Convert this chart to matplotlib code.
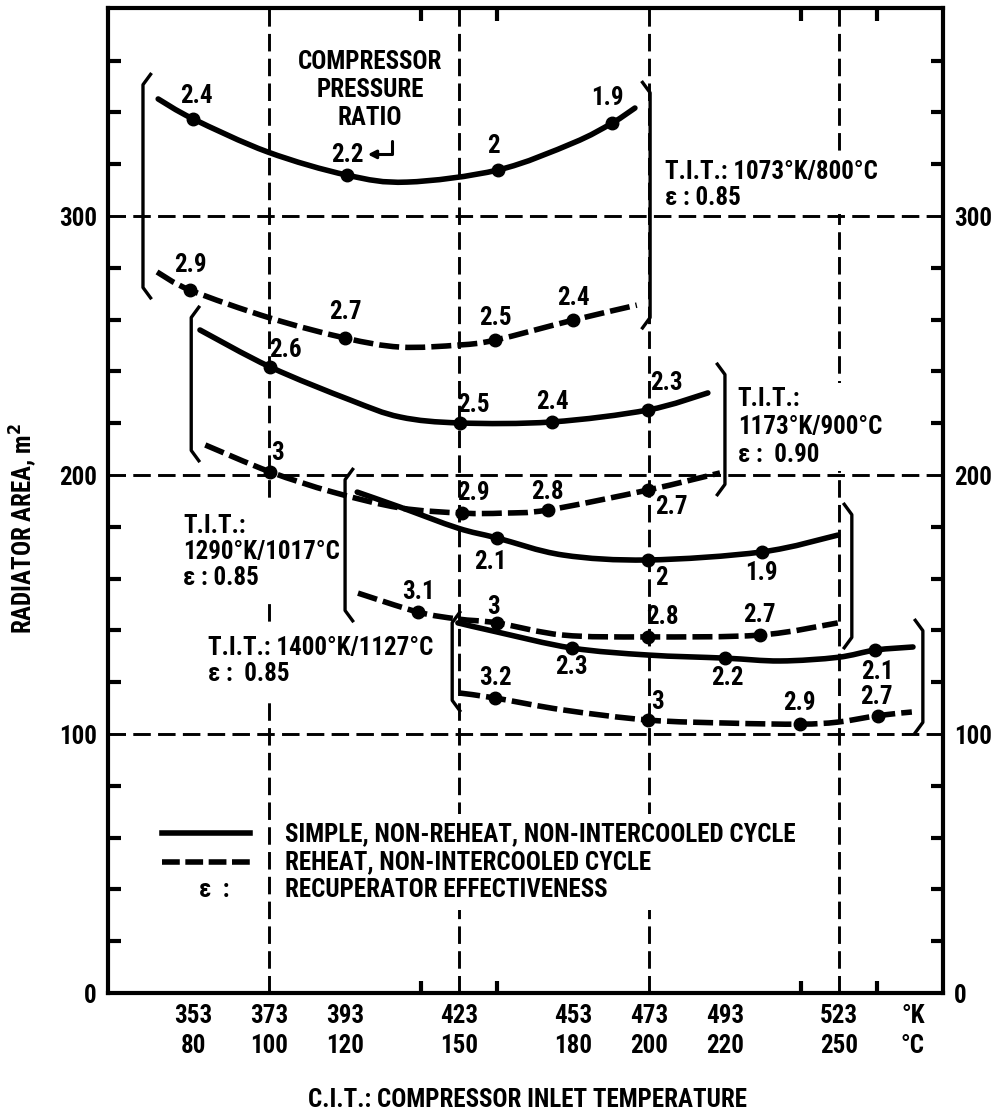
import matplotlib
matplotlib.use("Agg")
import matplotlib.pyplot as plt
from matplotlib.path import Path
from matplotlib.patches import PathPatch

plt.rcParams['font.family'] = ['Liberation Sans Narrow', 'DejaVu Sans Condensed',
                               'Roboto Condensed', 'DejaVu Sans']
plt.rcParams['font.weight'] = 'heavy'
plt.rcParams['font.stretch'] = 'condensed'

# --- curves: CIT (K) vs radiator area (m2) ---
tit1073_simple_x = [343.8, 353.0, 372.7, 393.5, 409.3, 433.3, 453.0, 463.3, 469.3]
tit1073_simple_y = [345.2, 337.5, 324.7, 315.8, 313.1, 317.8, 328.2, 335.9, 341.7]
tit1073_reheat_x = [343.5, 352.2, 373.3, 393.0, 407.5, 423.0, 432.5, 453.0, 469.8]
tit1073_reheat_y = [278.4, 271.4, 260.6, 252.9, 249.4, 250.2, 252.1, 259.8, 265.6]

tit1173_simple_x = [354.8, 373.3, 394.3, 407.5, 423.3, 447.5, 472.7, 488.5]
tit1173_simple_y = [256.0, 241.7, 229.0, 222.4, 220.1, 220.5, 225.1, 231.7]
tit1173_reheat_x = [356.2, 373.3, 389.8, 407.5, 423.8, 434.6, 446.4, 472.7, 491.7]
tit1173_reheat_y = [211.6, 201.2, 193.4, 187.3, 185.3, 185.3, 186.5, 194.2, 200.8]

tit1290_simple_x = [396.2, 407.5, 422.7, 433.0, 450.4, 472.7, 502.7, 522.7]
tit1290_simple_y = [193.4, 187.6, 179.5, 175.7, 169.1, 167.2, 170.3, 176.8]
tit1290_reheat_x = [396.4, 412.2, 422.7, 433.0, 450.4, 472.7, 502.2, 522.7]
tit1290_reheat_y = [154.4, 147.1, 144.4, 142.9, 138.2, 137.5, 138.2, 142.9]

tit1400_simple_x = [422.7, 433.0, 452.7, 472.7, 493.0, 507.5, 522.7, 532.5, 542.5]
tit1400_simple_y = [142.9, 139.4, 133.2, 130.5, 129.3, 128.2, 129.6, 132.4, 133.6]
tit1400_reheat_x = [423.3, 432.5, 450.4, 472.7, 494.3, 512.7, 522.7, 533.3, 542.2]
tit1400_reheat_y = [115.8, 113.9, 109.3, 105.4, 104.2, 103.8, 104.6, 107.1, 108.5]

# --- marked design points and their compressor pressure ratios ---
tit1073_simple_pts_x = [353.0, 393.5, 433.3, 463.3]
tit1073_simple_pts_y = [337.5, 315.8, 317.8, 335.9]
tit1073_simple_pr = ['2.4', '', '2', '1.9']
tit1073_reheat_pts_x = [352.2, 393.0, 432.5, 453.0]
tit1073_reheat_pts_y = [271.4, 252.9, 252.1, 259.8]
tit1073_reheat_pr = ['2.9', '2.7', '2.5', '2.4']

tit1173_simple_pts_x = [373.3, 423.3, 447.5, 472.7]
tit1173_simple_pts_y = [241.7, 220.1, 220.5, 225.1]
tit1173_simple_pr = ['2.6', '2.5', '2.4', '2.3']
tit1173_reheat_pts_x = [373.3, 423.8, 446.4, 472.7]
tit1173_reheat_pts_y = [201.2, 185.3, 186.5, 194.2]
tit1173_reheat_pr = ['3', '2.9', '2.8', '2.7']

tit1290_simple_pts_x = [433.0, 472.7, 502.7]
tit1290_simple_pts_y = [175.7, 167.2, 170.3]
tit1290_simple_pr = ['2.1', '2', '1.9']
tit1290_reheat_pts_x = [412.2, 433.0, 472.7, 502.2]
tit1290_reheat_pts_y = [147.1, 142.9, 137.5, 138.2]
tit1290_reheat_pr = ['3.1', '3', '2.8', '2.7']

tit1400_simple_pts_x = [452.7, 493.0, 532.5]
tit1400_simple_pts_y = [133.2, 129.3, 132.4]
tit1400_simple_pr = ['2.3', '2.2', '2.1']
tit1400_reheat_pts_x = [432.5, 472.7, 512.7, 533.3]
tit1400_reheat_pts_y = [113.9, 105.4, 103.8, 107.1]
tit1400_reheat_pr = ['3.2', '3', '2.9', '2.7']

# label offsets from the point, in pixels
tit1073_simple_off = [(3, 23), (0, 0), (-5, 24), (-5, 25)]
tit1073_reheat_off = [(0, 25), (0, 26), (0, 22), (0, 22)]
tit1173_simple_off = [(15, 17), (13, 18), (0, 20), (19, 27)]
tit1173_reheat_off = [(7, 19), (11, 20), (0, 18), (24, -17)]
tit1290_simple_off = [(-7, -24), (14, -18), (0, -21)]
tit1290_reheat_off = [(0, 20), (-4, 16), (15, 20), (0, 20)]
tit1400_simple_off = [(0, -19), (2, -20), (2, -22)]
tit1400_reheat_off = [(0, 20), (10, 18), (0, 21), (-2, 19)]

cit_k_ticks = [353, 373, 393, 423, 453, 473, 493, 523, 542.5]
cit_k_labels = ['353', '373', '393', '423', '453', '473', '493', '523', '°K']
cit_c_labels = ['80', '100', '120', '150', '180', '200', '220', '250', '°C']

FS = 18


def smooth_path(xs, ys):
    # Catmull-Rom curve through the read points, drawn as cubic Bezier pieces
    pts = list(zip(xs, ys))
    n = len(pts)
    verts = [pts[0]]
    codes = [Path.MOVETO]
    for i in range(n - 1):
        p0 = pts[i - 1] if i > 0 else pts[i]
        p1, p2 = pts[i], pts[i + 1]
        p3 = pts[i + 2] if i + 2 < n else pts[i + 1]
        c1 = (p1[0] + (p2[0] - p0[0]) / 6, p1[1] + (p2[1] - p0[1]) / 6)
        c2 = (p2[0] - (p3[0] - p1[0]) / 6, p2[1] - (p3[1] - p1[1]) / 6)
        verts += [c1, c2, p2]
        codes += [Path.CURVE4] * 3
    return Path(verts, codes)


fig = plt.figure(figsize=(9.92, 11.19), dpi=100)
ax = fig.add_axes([0.1089, 0.1126, 0.8417, 0.8802])
ax.set_xlim(330.6, 550.4)
ax.set_ylim(0, 380.3)

# dashed grid
grid_style = dict(color='black', lw=2.1, ls=(0, (6, 2.5)), zorder=1)
for gx in [373, 423, 473, 523]:
    ax.axvline(gx, **grid_style)
for gy in [100, 200, 300]:
    ax.axhline(gy, **grid_style)

curves = [
    (tit1073_simple_x, tit1073_simple_y, tit1073_simple_pts_x, tit1073_simple_pts_y, tit1073_simple_pr, tit1073_simple_off, '-'),
    (tit1073_reheat_x, tit1073_reheat_y, tit1073_reheat_pts_x, tit1073_reheat_pts_y, tit1073_reheat_pr, tit1073_reheat_off, '--'),
    (tit1173_simple_x, tit1173_simple_y, tit1173_simple_pts_x, tit1173_simple_pts_y, tit1173_simple_pr, tit1173_simple_off, '-'),
    (tit1173_reheat_x, tit1173_reheat_y, tit1173_reheat_pts_x, tit1173_reheat_pts_y, tit1173_reheat_pr, tit1173_reheat_off, '--'),
    (tit1290_simple_x, tit1290_simple_y, tit1290_simple_pts_x, tit1290_simple_pts_y, tit1290_simple_pr, tit1290_simple_off, '-'),
    (tit1290_reheat_x, tit1290_reheat_y, tit1290_reheat_pts_x, tit1290_reheat_pts_y, tit1290_reheat_pr, tit1290_reheat_off, '--'),
    (tit1400_simple_x, tit1400_simple_y, tit1400_simple_pts_x, tit1400_simple_pts_y, tit1400_simple_pr, tit1400_simple_off, '-'),
    (tit1400_reheat_x, tit1400_reheat_y, tit1400_reheat_pts_x, tit1400_reheat_pts_y, tit1400_reheat_pr, tit1400_reheat_off, '--'),
]

for cx, cy, px, py, prs, offs, style in curves:
    ls = (0, (3.6, 1.1)) if style == '--' else '-'
    patch = PathPatch(smooth_path(cx, cy), fill=False, edgecolor='black', lw=4,
                      linestyle=ls, capstyle='butt' if style == '--' else 'round',
                      zorder=4)
    ax.add_patch(patch)
    ax.plot(px, py, 'o', color='black', ms=9, zorder=5)
    for x, y, pr, off in zip(px, py, prs, offs):
        if pr:
            ax.annotate(pr, (x, y), xytext=off, textcoords='offset pixels',
                        ha='center', va='center', fontsize=FS, zorder=6)

# 2.2 label with hooked arrow from the heading
ax.text(393.5, 323.6, '2.2', ha='center', va='center', fontsize=FS, zorder=6)
ax.annotate('', xy=(398.2, 323.8), xytext=(405.4, 330.0),
            arrowprops=dict(arrowstyle='-|>', color='black', lw=2.2,
                            mutation_scale=12,
                            connectionstyle='angle,angleA=90,angleB=0,rad=0'))
ax.text(399.6, 348.6, 'COMPRESSOR\nPRESSURE\nRATIO', ha='center', va='center',
        fontsize=FS, linespacing=1.2)


# brackets grouping each turbine inlet temperature
def bracket(x, y_bot, y_top, side):
    hx = 2.0 * side
    ax.plot([x + hx, x, x, x + hx], [y_top + 3, y_top - 1, y_bot + 1, y_bot - 3],
            color='black', lw=2.4, zorder=3)


bracket(339.8, 271.4, 351.7, 1)
bracket(473.3, 259.8, 348.6, -1)
bracket(352.5, 208.5, 261.8, 1)
bracket(493.0, 195.4, 239.8, -1)
bracket(393.0, 146.7, 199.2, 1)
bracket(526.4, 136.3, 185.7, -1)
bracket(421.2, 112.0, 144.0, 1)
bracket(545.1, 103.5, 140.9, -1)

box = dict(facecolor='white', edgecolor='none', pad=3)
ax.text(477.2, 312.0, 'T.I.T.: 1073°K/800°C\nε : 0.85', ha='left', va='center',
        fontsize=FS, linespacing=1.1, bbox=box, zorder=2)
ax.text(496.4, 218.5, 'T.I.T.:\n1173°K/900°C\nε :  0.90', ha='left', va='center',
        fontsize=FS, linespacing=1.2, bbox=box, zorder=2)
ax.text(350.4, 170.3, 'T.I.T.:\n1290°K/1017°C\nε : 0.85', ha='left', va='center',
        fontsize=FS, linespacing=1.1, bbox=dict(facecolor='white', edgecolor='none', pad=8), zorder=2)
ax.text(357.0, 128.2, 'T.I.T.: 1400°K/1127°C\nε :  0.85', ha='left', va='center',
        fontsize=FS, linespacing=1.15, bbox=dict(facecolor='white', edgecolor='none', pad=8), zorder=2)

# legend drawn in place
ax.plot([344.8, 368.0], [61.8, 61.8], color='black', lw=4, zorder=4)
leg_dash, = ax.plot([344.8, 368.0], [50.6, 50.6], color='black', lw=4, zorder=4)
leg_dash.set_dashes((3.2, 1.0))
ax.text(358.5, 39.8, 'ε  :', ha='center', va='center', fontsize=FS)
ax.text(377.2, 50.6, 'SIMPLE, NON-REHEAT, NON-INTERCOOLED CYCLE\n'
        'REHEAT, NON-INTERCOOLED CYCLE\nRECUPERATOR EFFECTIVENESS',
        ha='left', va='center', fontsize=FS, linespacing=1.2,
        bbox=dict(facecolor='white', edgecolor='none', pad=6), zorder=2)

# axes, ticks
for s in ax.spines.values():
    s.set_linewidth(3)
ax.set_xticks(cit_k_ticks)
ax.set_xticklabels([k + '\n' + c for k, c in zip(cit_k_labels, cit_c_labels)],
                   fontsize=FS, linespacing=1.3)
ax.set_xticks(range(353, 534, 20), minor=True)
ax.set_yticks([0, 100, 200, 300])
ax.set_yticks(range(20, 380, 20), minor=True)
ax.tick_params(axis='x', which='major', length=0, pad=8, labelsize=FS)
ax.tick_params(axis='y', which='major', length=0, pad=8, labelsize=FS)
ax.tick_params(axis='both', which='minor', direction='in', length=9, width=3,
               top=True, right=True)
ax.tick_params(axis='y', which='major', labelright=True)

ax.text(-0.102, 0.472, 'RADIATOR AREA, m$^\\mathbf{2}$', transform=ax.transAxes,
        rotation=90, ha='center', va='center', fontsize=FS)
ax.text(0.502, -0.109, 'C.I.T.: COMPRESSOR INLET TEMPERATURE', transform=ax.transAxes,
        ha='center', va='center', fontsize=FS)

fig.savefig('out.png', dpi=100)
